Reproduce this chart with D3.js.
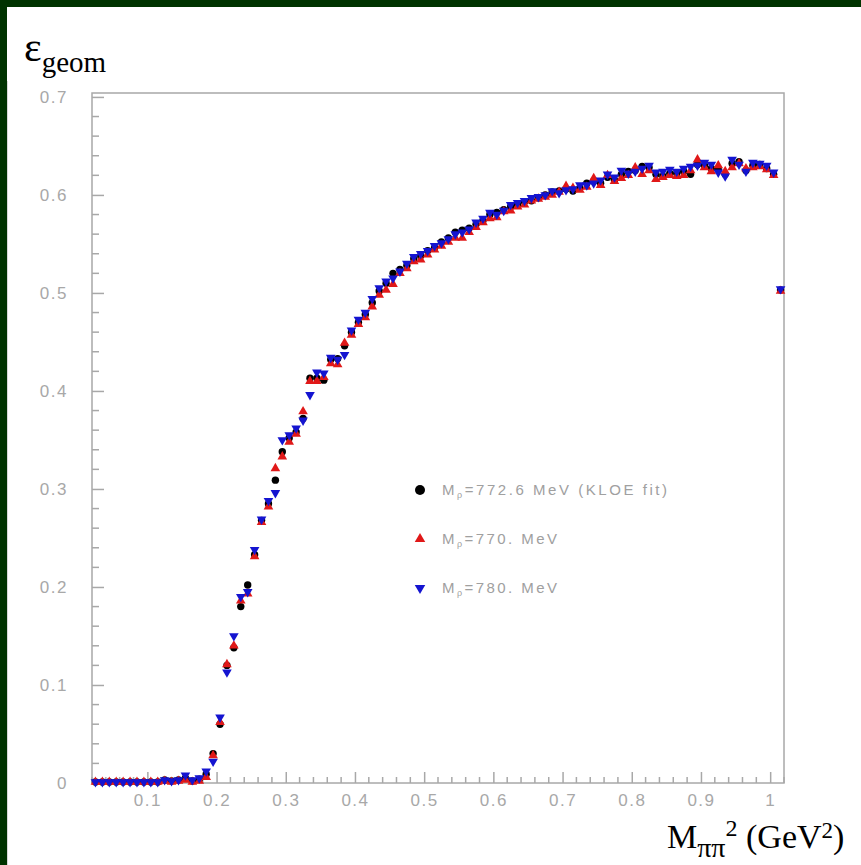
<!DOCTYPE html>
<html>
<head>
<meta charset="utf-8">
<script src="https://cdn.jsdelivr.net/npm/d3@7"></script>
<style>
    body { margin: 0; background: #003300; }
    svg { display: block; }
    .legend-label { font-family: "Liberation Sans", Arial, sans-serif; font-size: 15px; fill: #a0a0a0; }
    .big-label { font-family: "Liberation Serif", "Times New Roman", serif; fill: #000; }
</style>
</head>
<body>
<div id="chart"></div>
<script>
// bin centres of M_pipi^2 (GeV^2)
let binCenters = [
    0.025, 0.035, 0.045, 0.055, 0.065, 0.075, 0.085, 0.095, 0.105, 0.115,
    0.125, 0.135, 0.145, 0.155, 0.165, 0.175, 0.185, 0.195, 0.205, 0.215,
    0.225, 0.235, 0.245, 0.255, 0.265, 0.275, 0.285, 0.295, 0.305, 0.315,
    0.325, 0.335, 0.345, 0.355, 0.365, 0.375, 0.385, 0.395, 0.405, 0.415,
    0.425, 0.435, 0.445, 0.455, 0.465, 0.475, 0.485, 0.495, 0.505, 0.515,
    0.525, 0.535, 0.545, 0.555, 0.565, 0.575, 0.585, 0.595, 0.605, 0.615,
    0.625, 0.635, 0.645, 0.655, 0.665, 0.675, 0.685, 0.695, 0.705, 0.715,
    0.725, 0.735, 0.745, 0.755, 0.765, 0.775, 0.785, 0.795, 0.805, 0.815,
    0.825, 0.835, 0.845, 0.855, 0.865, 0.875, 0.885, 0.895, 0.905, 0.915,
    0.925, 0.935, 0.945, 0.955, 0.965, 0.975, 0.985, 0.995, 1.005, 1.015
];

// M_rho = 772.6 MeV (KLOE fit)
let effKloe = [
    0.001, 0.001, 0.001, 0.001, 0.001, 0.001, 0.001, 0.001, 0.001, 0.001,
    0.003, 0.002, 0.003, 0.005, 0.002, 0.004, 0.009, 0.030, 0.060, 0.120,
    0.138, 0.180, 0.202, 0.233, 0.268, 0.285, 0.309, 0.338, 0.352, 0.358,
    0.372, 0.413, 0.413, 0.411, 0.432, 0.433, 0.446, 0.460, 0.470, 0.478,
    0.490, 0.502, 0.510, 0.520, 0.524, 0.528, 0.535, 0.538, 0.543, 0.546,
    0.552, 0.556, 0.562, 0.564, 0.566, 0.570, 0.574, 0.580, 0.582, 0.585,
    0.588, 0.590, 0.593, 0.594, 0.597, 0.600, 0.603, 0.604, 0.606, 0.604,
    0.607, 0.612, 0.614, 0.612, 0.618, 0.615, 0.621, 0.624, 0.625, 0.629,
    0.628, 0.621, 0.619, 0.622, 0.622, 0.624, 0.621, 0.631, 0.630, 0.627,
    0.626, 0.621, 0.632, 0.634, 0.625, 0.630, 0.631, 0.627, 0.621, 0.503
];

// M_rho = 770. MeV
let eff770 = [
    0.001, 0.001, 0.001, 0.001, 0.001, 0.001, 0.001, 0.001, 0.001, 0.001,
    0.002, 0.001, 0.002, 0.003, 0.001, 0.002, 0.006, 0.028, 0.062, 0.121,
    0.140, 0.186, 0.193, 0.231, 0.266, 0.282, 0.321, 0.333, 0.348, 0.356,
    0.379, 0.410, 0.410, 0.414, 0.428, 0.427, 0.449, 0.457, 0.468, 0.475,
    0.486, 0.498, 0.503, 0.509, 0.520, 0.525, 0.532, 0.534, 0.539, 0.544,
    0.548, 0.552, 0.556, 0.556, 0.562, 0.567, 0.572, 0.576, 0.577, 0.583,
    0.584, 0.588, 0.590, 0.594, 0.596, 0.598, 0.600, 0.603, 0.609, 0.607,
    0.605, 0.608, 0.617, 0.610, 0.620, 0.614, 0.617, 0.620, 0.628, 0.621,
    0.625, 0.616, 0.618, 0.620, 0.619, 0.620, 0.625, 0.636, 0.628, 0.624,
    0.630, 0.624, 0.628, 0.632, 0.627, 0.628, 0.629, 0.626, 0.620, 0.502
];

// M_rho = 780. MeV
let eff780 = [
    0.001, 0.001, 0.001, 0.001, 0.001, 0.001, 0.001, 0.001, 0.001, 0.001,
    0.003, 0.002, 0.003, 0.008, 0.003, 0.005, 0.012, 0.022, 0.067, 0.113,
    0.150, 0.190, 0.195, 0.238, 0.269, 0.288, 0.296, 0.350, 0.355, 0.362,
    0.370, 0.396, 0.419, 0.418, 0.434, 0.432, 0.437, 0.462, 0.473, 0.480,
    0.494, 0.505, 0.512, 0.515, 0.522, 0.530, 0.537, 0.540, 0.543, 0.548,
    0.551, 0.555, 0.560, 0.562, 0.565, 0.572, 0.576, 0.582, 0.580, 0.584,
    0.590, 0.592, 0.594, 0.597, 0.598, 0.600, 0.604, 0.602, 0.605, 0.606,
    0.610, 0.610, 0.612, 0.615, 0.621, 0.618, 0.625, 0.622, 0.624, 0.627,
    0.630, 0.623, 0.624, 0.626, 0.624, 0.627, 0.629, 0.630, 0.633, 0.631,
    0.623, 0.619, 0.636, 0.631, 0.624, 0.633, 0.632, 0.630, 0.623, 0.504
];

let xTicks = [0.1, 0.2, 0.3, 0.4, 0.5, 0.6, 0.7, 0.8, 0.9, 1];
let xTickLabels = ["0.1", "0.2", "0.3", "0.4", "0.5", "0.6", "0.7", "0.8", "0.9", "1"];
let yTicks = [0, 0.1, 0.2, 0.3, 0.4, 0.5, 0.6, 0.7];
let yTickLabels = ["0", "0.1", "0.2", "0.3", "0.4", "0.5", "0.6", "0.7"];

let seriesNames = ["=772.6 MeV (KLOE fit)", "=770. MeV", "=780. MeV"];

/**
 * Styles the tick labels the way the scanned plot shows them
 */
function styleTickText(sel) {
    sel.attr("fill", "#a8a8a8")
        .attr("font-family", "'Liberation Sans', Arial, sans-serif")
        .attr("font-size", 17)
        .style("font-size", "17px")
        .style("letter-spacing", "1.5px");
}

/**
 * Draws the geometric efficiency plot
 */
function drawChart() {
    let width = 861, height = 865;
    let svg = d3.select("#chart").append("svg")
        .attr("width", width).attr("height", height);

    // dark green slide frame, white page
    svg.append("rect").attr("width", width).attr("height", height).attr("fill", "#003300");
    svg.append("rect").attr("x", 7).attr("y", 7)
        .attr("width", width - 7).attr("height", height - 7).attr("fill", "#ffffff");
    svg.append("line").attr("x1", 7.5).attr("x2", 7.5).attr("y1", 81).attr("y2", height)
        .attr("stroke", "#d8d8d8").attr("stroke-width", 1);

    let x = d3.scaleLinear().domain([0.02, 1.02]).range([92, 784]);
    let y = d3.scaleLinear().domain([0, 0.704]).range([783, 93]);

    let axisColor = "#a8a8a8";

    // frame
    svg.append("rect")
        .attr("x", x(0.02)).attr("y", y(0.704))
        .attr("width", x(1.02) - x(0.02)).attr("height", y(0) - y(0.704))
        .attr("fill", "none").attr("stroke", axisColor).attr("stroke-width", 1.5);

    // bottom axis, ticks pointing inward
    let xMinor = d3.range(0.02, 1.021, 0.02).filter(v => !xTicks.some(t => Math.abs(t - v) < 1e-6));
    let xAxis = svg.append("g").attr("transform", "translate(0," + y(0) + ")");
    xAxis.call(d3.axisBottom(x).tickValues(xTicks).tickSizeInner(-11).tickSizeOuter(0)
        .tickFormat((d, i) => xTickLabels[i]));
    xAxis.select(".domain").remove();
    xAxis.selectAll(".tick line").attr("stroke", axisColor).attr("stroke-width", 1.5);
    xAxis.selectAll(".tick text").attr("y", 11).attr("dy", "0.71em").call(styleTickText);
    xAxis.selectAll("line.minor").data(xMinor).join("line")
        .attr("class", "minor")
        .attr("x1", d => x(d)).attr("x2", d => x(d)).attr("y1", 0).attr("y2", -6)
        .attr("stroke", axisColor).attr("stroke-width", 1.5);

    // left axis
    let yMinor = d3.range(0, 0.701, 0.02).filter(v => !yTicks.some(t => Math.abs(t - v) < 1e-6));
    let yAxis = svg.append("g").attr("transform", "translate(" + x(0.02) + ",0)");
    yAxis.call(d3.axisLeft(y).tickValues(yTicks).tickSizeInner(-12).tickSizeOuter(0)
        .tickFormat((d, i) => yTickLabels[i]));
    yAxis.select(".domain").remove();
    yAxis.selectAll(".tick line").attr("stroke", axisColor).attr("stroke-width", 1.5);
    yAxis.selectAll(".tick text").attr("x", -24).call(styleTickText);
    yAxis.selectAll("line.minor").data(yMinor).join("line")
        .attr("class", "minor")
        .attr("x1", 0).attr("x2", 7).attr("y1", d => y(d)).attr("y2", d => y(d))
        .attr("stroke", axisColor).attr("stroke-width", 1.5);

    // markers
    let series = [
        { values: effKloe, color: "#000000", shape: "circle" },
        { values: eff770, color: "#e01818", shape: "up" },
        { values: eff780, color: "#1414d0", shape: "down" }
    ];
    let tri = d3.symbol().type(d3.symbolTriangle).size(40);

    series.forEach(function(s) {
        let g = svg.append("g");
        let pts = binCenters.map((c, i) => [c, s.values[i]]);
        if (s.shape === "circle") {
            g.selectAll("circle").data(pts).join("circle")
                .attr("cx", d => x(d[0])).attr("cy", d => y(d[1]))
                .attr("r", 3.7).attr("fill", s.color);
        }
        else {
            let rot = s.shape === "up" ? 0 : 180;
            g.selectAll("path").data(pts).join("path")
                .attr("d", tri)
                .attr("transform", d => "translate(" + x(d[0]) + "," + y(d[1]) + ") rotate(" + rot + ")")
                .attr("fill", s.color);
        }
    });

    // legend
    let legendY = [490, 539, 588];
    let legend = svg.append("g");
    series.forEach(function(s, i) {
        if (s.shape === "circle") {
            legend.append("circle").attr("cx", 420).attr("cy", legendY[i]).attr("r", 5).attr("fill", s.color);
        }
        else {
            let rot = s.shape === "up" ? 0 : 180;
            legend.append("path")
                .attr("d", d3.symbol().type(d3.symbolTriangle).size(48))
                .attr("transform", "translate(420," + legendY[i] + ") rotate(" + rot + ")")
                .attr("fill", s.color);
        }
        let t = legend.append("text").attr("class", "legend-label")
            .attr("x", 442).attr("y", legendY[i] + 5);
        t.append("tspan").text("M");
        t.append("tspan").attr("font-size", 9).attr("dy", 3).text("ρ");
        t.append("tspan").attr("dy", -3).text(seriesNames[i]);
        t.attr("textLength", i === 0 ? 225 : 115).attr("lengthAdjust", "spacing");
    });

    // y title: epsilon_geom
    let yTitle = svg.append("text").attr("class", "big-label").attr("x", 24).attr("y", 61);
    yTitle.append("tspan").attr("font-size", 42).text("ε");
    yTitle.append("tspan").attr("font-size", 29).attr("dy", 11).text("geom");

    // x title: M_pipi^2 (GeV^2)
    let xTitle = svg.append("text").attr("class", "big-label").attr("x", 667).attr("y", 848);
    xTitle.append("tspan").attr("font-size", 34).text("M");
    xTitle.append("tspan").attr("font-size", 28).attr("dy", 9).text("ππ");
    xTitle.append("tspan").attr("font-size", 24).attr("dy", -21).text("2");
    xTitle.append("tspan").attr("font-size", 34).attr("dy", 12).text(" (GeV");
    xTitle.append("tspan").attr("font-size", 23).attr("dy", -10).text("2");
    xTitle.append("tspan").attr("font-size", 34).attr("dy", 10).text(")");
}

drawChart();
</script>
</body>
</html>
